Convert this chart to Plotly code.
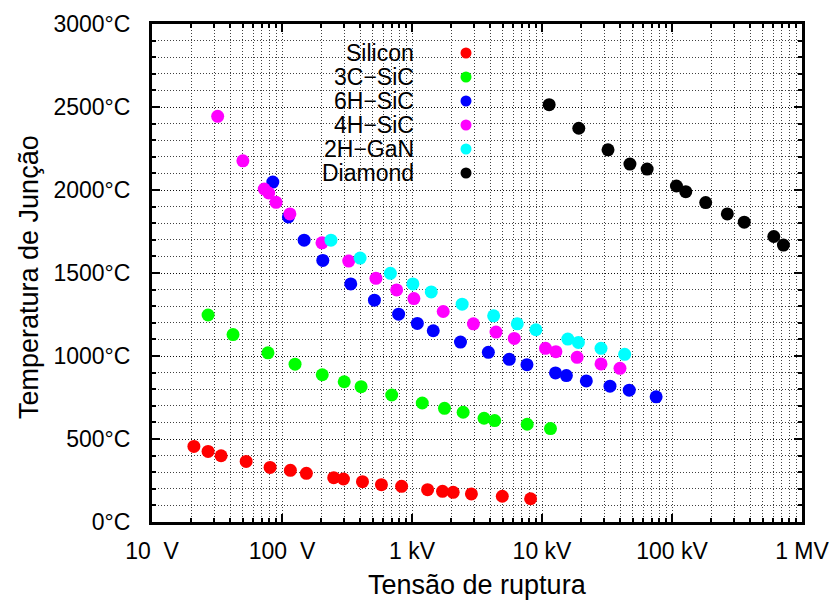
import plotly.graph_objects as go

# Breakdown voltage (V) and maximum junction temperature (°C) per material
silicon_v = [21, 27, 34, 53, 81, 116, 154, 250, 297, 416, 582, 832, 1318, 1717, 2073, 2864, 4950, 8170]
silicon_t = [455, 425, 399, 365, 329, 311, 293, 267, 259, 243, 225, 215, 195, 185, 179, 169, 155, 140]

sic3c_v = [27, 42, 78, 126, 204, 301, 406, 698, 1199, 1778, 2474, 3583, 4323, 7696, 11620]
sic3c_t = [1247, 1129, 1019, 951, 887, 845, 815, 765, 717, 685, 661, 625, 611, 589, 563]

sic6h_v = [85, 112, 148, 206, 338, 514, 789, 1099, 1457, 2360, 3867, 5600, 7660, 12700, 15400, 21930, 33340, 46900, 75500]
sic6h_t = [2048, 1838, 1698, 1576, 1434, 1336, 1252, 1196, 1152, 1084, 1022, 980, 948, 898, 882, 850, 818, 794, 754]

sic4h_v = [32, 50, 73, 79, 90, 115, 203, 326, 528, 762, 1034, 1738, 2967, 4429, 6120, 10640, 12790, 18620, 28440, 39800]
sic4h_t = [2444, 2176, 2006, 1982, 1926, 1856, 1682, 1572, 1468, 1398, 1346, 1268, 1194, 1144, 1106, 1046, 1026, 992, 952, 926]

gan_v = [238, 399, 682, 1016, 1406, 2431, 4246, 6454, 8978, 15800, 19050, 28440, 43240]
gan_t = [1698, 1590, 1498, 1434, 1386, 1312, 1242, 1194, 1158, 1102, 1082, 1046, 1010]

diamond_v = [11350, 19190, 32200, 47460, 64400, 108200, 127600, 181600, 266500, 359700, 606700, 719600]
diamond_t = [2514, 2372, 2242, 2156, 2126, 2024, 1990, 1924, 1856, 1806, 1720, 1668]

series_names = ["Silicon", "3C\u2212SiC", "6H\u2212SiC", "4H\u2212SiC", "2H\u2212GaN", "Diamond"]
series_colors = ["#ff0000", "#00ff00", "#0000ff", "#ff00ff", "#00ffff", "#000000"]
series_data = [
    (silicon_v, silicon_t),
    (sic3c_v, sic3c_t),
    (sic6h_v, sic6h_t),
    (sic4h_v, sic4h_t),
    (gan_v, gan_t),
    (diamond_v, diamond_t),
]

x_tick_vals = [10, 100, 1e3, 1e4, 1e5, 1e6]
x_tick_text = ["10\u00a0\u00a0V", "100\u00a0\u00a0V", "1 kV", "10 kV", "100 kV", "1 MV"]
x_minor_vals = [m * 10 ** e for e in range(1, 6) for m in range(2, 10)]
y_tick_vals = [0, 500, 1000, 1500, 2000, 2500, 3000]
y_tick_text = [f"{v}\u00b0C" for v in y_tick_vals]

FONT = "Liberation Sans, Arial, sans-serif"
TICK_SIZE = 23
TITLE_SIZE = 27
GRID = "rgba(0,0,0,0.75)"
DOTS = "1px,2px"

fig = go.Figure()
for (xs, ys), name, color in zip(series_data, series_names, series_colors):
    fig.add_trace(go.Scatter(
        x=xs, y=ys, mode="markers", name=name, showlegend=False,
        marker=dict(color=color, size=13, line=dict(width=0)),
    ))

# Plot-area geometry in pixels (used for the key placement)
W, H = 840, 606
L, R, T, B = 152, 38, 24, 84
pw, ph = W - L - R, H - T - B


def px_x(p):
    return (p - L) / pw


def px_y(p):
    return (H - B - p) / ph


shapes = [
    # opaque key box
    dict(type="rect", xref="paper", yref="paper", layer="between",
         x0=px_x(317), x1=px_x(513), y0=px_y(185), y1=px_y(45),
         fillcolor="white", line=dict(width=0)),
]
annotations = []
for i, (name, color) in enumerate(zip(series_names, series_colors)):
    yc = px_y(53 + 24 * i)
    annotations.append(dict(
        xref="paper", yref="paper", x=px_x(416), y=yc, xanchor="right", yanchor="middle",
        text=name, showarrow=False, font=dict(family=FONT, size=TICK_SIZE, color="black"),
    ))
    shapes.append(dict(
        type="circle", xref="paper", yref="paper", layer="above",
        xsizemode="pixel", ysizemode="pixel", xanchor=px_x(466), yanchor=yc,
        x0=-5.5, x1=5.5, y0=-5.5, y1=5.5, fillcolor=color, line=dict(width=0),
    ))

annotations.append(dict(
    xref="paper", yref="paper", x=0.5, y=px_y(585), xanchor="center", yanchor="middle",
    text="Tens\u00e3o de ruptura", showarrow=False, font=dict(family=FONT, size=TITLE_SIZE, color="black"),
))
annotations.append(dict(
    xref="paper", yref="paper", x=px_x(29), y=px_y(277), xanchor="center", yanchor="middle",
    text="Temperatura de Jun\u00e7\u00e3o", textangle=-90, showarrow=False,
    font=dict(family=FONT, size=TITLE_SIZE, color="black"),
))

fig.update_layout(
    width=W, height=H,
    margin=dict(l=L, r=R, t=T, b=B, pad=0),
    paper_bgcolor="white", plot_bgcolor="white",
    font=dict(family=FONT, size=TICK_SIZE, color="black"),
    shapes=shapes, annotations=annotations,
    xaxis=dict(
        type="log", range=[1, 6], tickmode="array", tickvals=x_tick_vals, ticktext=x_tick_text,
        ticks="inside", ticklen=8, tickwidth=2, tickcolor="black",
        showline=True, linewidth=3, linecolor="black", mirror="allticks",
        showgrid=True, gridcolor=GRID, griddash=DOTS, gridwidth=1,
        zeroline=False, ticklabelstandoff=6,
        minor=dict(tickmode="array", tickvals=x_minor_vals, ticks="inside", ticklen=4,
                   tickwidth=2, tickcolor="black", showgrid=True, gridcolor=GRID,
                   griddash=DOTS, gridwidth=1),
    ),
    yaxis=dict(
        range=[0, 3000], tickmode="array", tickvals=y_tick_vals, ticktext=y_tick_text,
        ticks="inside", ticklen=8, tickwidth=2, tickcolor="black",
        showline=True, linewidth=3, linecolor="black", mirror="allticks",
        showgrid=True, gridcolor=GRID, griddash=DOTS, gridwidth=1,
        zeroline=False, ticklabelstandoff=14,
        minor=dict(dtick=100, ticks="inside", ticklen=4, tickwidth=2, tickcolor="black",
                   showgrid=True, gridcolor=GRID, griddash=DOTS, gridwidth=1),
    ),
)

fig.write_html("out.html")
